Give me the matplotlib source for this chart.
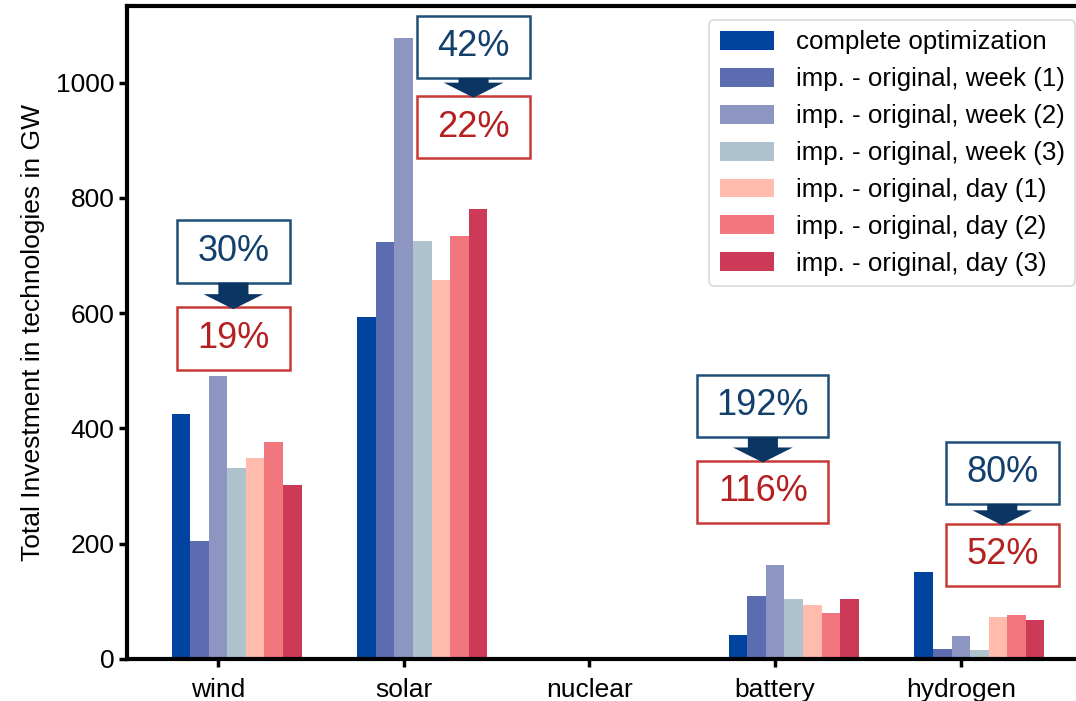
import numpy as np
import matplotlib
matplotlib.use("Agg")
import matplotlib.pyplot as plt
from matplotlib.patches import Rectangle, FancyArrow

plt.rcParams['font.family'] = ['Liberation Sans', 'DejaVu Sans']

#%% ---------- Data ----------
technologies = ["wind", "solar", "nuclear", "battery", "hydrogen"]
series_labels = [
    "complete optimization",
    "imp. - original, week (1)",
    "imp. - original, week (2)",
    "imp. - original, week (3)",
    "imp. - original, day (1)",
    "imp. - original, day (2)",
    "imp. - original, day (3)",
]
complete_opt = [425, 593, 0, 42, 151]
week_1 = [205, 723, 0, 109, 17]
week_2 = [491, 1077, 0, 163, 40]
week_3 = [331, 725, 0, 104, 16]
day_1 = [349, 657, 0, 94, 73]
day_2 = [376, 734, 0, 80, 76]
day_3 = [302, 781, 0, 104, 68]

# relative deviation: week-based (top box) vs. day-based (bottom box)
dev_week = ["30%", "42%", None, "192%", "80%"]
dev_day = ["19%", "22%", None, "116%", "52%"]

#%% ---------- Styling ----------
colors = ["#0044a0", "#5b6cb0", "#8d96c2", "#aec3ce", "#ffbcad", "#f2767e", "#cd3a58"]
blue_txt = "#123f6b"
blue_edge = "#1f4e79"
red_txt = "#b52020"
red_edge = "#c83a35"
arrow_col = "#0b3563"

# box placement per category: x centre, centre y of upper / lower box
box_pos = {0: (0.083, 707, 556), 1: (1.376, 1062, 923), 3: (2.934, 439, 290), 4: (4.223, 323, 181)}
box_h = 108

#%% ---------- Plot ----------
fig = plt.figure(figsize=(10.76, 7.01), dpi=100)
ax = fig.add_axes([127 / 1076, 42 / 701, 1 - 127 / 1076, 653 / 701])

x = np.arange(len(technologies))
width = 0.1
all_series = [complete_opt, week_1, week_2, week_3, day_1, day_2, day_3]
for i, (vals, lab, col) in enumerate(zip(all_series, series_labels, colors)):
    ax.bar(x + (i - 2) * width, vals, width, label=lab, color=col)

for k, (xc, y_top, y_bot) in box_pos.items():
    w = 0.608 if len(dev_week[k]) == 3 else 0.705
    ax.add_patch(Rectangle((xc - w / 2, y_top - box_h / 2), w, box_h, fill=True,
                           facecolor="white", edgecolor=blue_edge, lw=1.8, zorder=4))
    ax.add_patch(Rectangle((xc - w / 2, y_bot - box_h / 2), w, box_h, fill=True,
                           facecolor="white", edgecolor=red_edge, lw=1.8, zorder=4))
    ax.text(xc, y_top, dev_week[k], ha="center", va="center", fontsize=26,
            color=blue_txt, zorder=5)
    ax.text(xc, y_bot, dev_day[k], ha="center", va="center", fontsize=26,
            color=red_txt, zorder=5)
    y0 = y_top - box_h / 2
    y1 = y_bot + box_h / 2 - 3
    ax.add_patch(FancyArrow(xc, y0, 0, y1 - y0, width=0.162, head_width=0.322,
                            head_length=26, length_includes_head=True,
                            color=arrow_col, lw=0, zorder=6))

ax.set_xlim(-0.49, 4.62)
ax.set_ylim(0, 1133)
ax.set_xticks(x)
ax.set_xticklabels(technologies)
ax.set_yticks([0, 200, 400, 600, 800, 1000])
ax.set_ylabel("Total Investment in technologies in GW", fontsize=19, labelpad=8)
ax.tick_params(labelsize=19, width=2.5, length=6)
ax.tick_params(axis="x", pad=8)
ax.tick_params(axis="y", pad=3)
for s in ["left", "bottom", "top"]:
    ax.spines[s].set_linewidth(3)
ax.spines["right"].set_visible(False)

leg = ax.legend(loc="upper right", bbox_to_anchor=(1075 / 1076, 1 - 14 / 653),
                bbox_transform=ax.transAxes, borderaxespad=0, fontsize=18.6,
                handlelength=2.1, handleheight=0.75, handletextpad=0.85,
                labelspacing=0.5, fancybox=True, framealpha=1, edgecolor="#d9d9d9")
leg.get_frame().set_linewidth(1.2)

fig.savefig("out.png", dpi=100)
